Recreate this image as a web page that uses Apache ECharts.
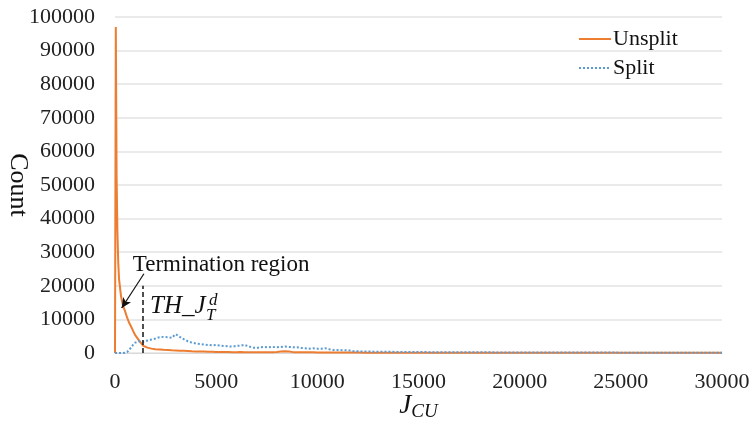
<!DOCTYPE html>
<html>
<head>
<meta charset="utf-8">
<script src="https://cdn.jsdelivr.net/npm/echarts@6/dist/echarts.min.js"></script>
<style>
  html, body { margin: 0; padding: 0; background: #fff; }
  #chart { width: 752px; height: 424px; }
</style>
</head>
<body>
<div id="chart"></div>
<script>
// J_CU bin positions (finer near zero where the unsplit count collapses)
const jcu = [
  0, 40, 80, 120, 160, 200, 300, 400, 500, 600, 700, 800, 900, 1000,
  1200, 1400, 1600, 1800, 2000, 2200, 2400, 2600, 2800, 3000,
  3200, 3400, 3600, 3800, 4000, 4200, 4400, 4600, 4800, 5000,
  5200, 5400, 5600, 5800, 6000, 6200, 6400, 6600, 6800, 7000,
  7200, 7400, 7600, 7800, 8000, 8200, 8400, 8600, 8800, 9000,
  9200, 9400, 9600, 9800, 10000, 10200, 10400, 10600, 10800, 11000,
  11200, 11400, 11600, 11800, 12000, 12400, 12800, 13200, 13600, 14000,
  14500, 15000, 15500, 16000, 17000, 18000, 19000, 20000, 21000, 22000,
  23000, 24000, 25000, 26000, 27000, 28000, 29000, 30000
];

// Count of CUs that were not split
const unsplit = [
  0, 97000, 52000, 36000, 27000, 22000, 16800, 14000, 12400, 10500, 9000, 7800, 6500, 5300,
  3600, 2100, 1600, 1300, 1150, 1050, 950, 880, 800, 750,
  700, 650, 600, 520, 480, 450, 420, 380, 350, 320,
  300, 280, 300, 260, 250, 270, 240, 230, 250, 220,
  230, 210, 220, 260, 300, 480, 520, 450, 260, 220,
  200, 210, 190, 200, 180, 170, 180, 160, 150, 150,
  140, 130, 130, 120, 120, 110, 110, 100, 100, 90,
  90, 80, 80, 80, 70, 70, 60, 60, 60, 50,
  50, 50, 50, 40, 40, 40, 40, 40
];

// Count of CUs that were split
const split = [
  0, 0, 0, 0, 0, 0, 0, 0, 100, 300, 900, 1700, 2500, 3100,
  3500, 3300, 3700, 4000, 4300, 4700, 4800, 4700, 4500, 5600,
  4800, 4100, 3500, 3100, 2800, 2700, 2500, 2400, 2300, 2400,
  2200, 2100, 2000, 1900, 2100, 2200, 2400, 2000, 1600, 1500,
  1700, 1800, 1700, 1800, 1700, 1800, 1900, 1800, 1700, 1700,
  1500, 1400, 1300, 1400, 1300, 1300, 1400, 1100, 900, 900,
  850, 800, 750, 550, 500, 450, 400, 380, 350, 320,
  300, 280, 260, 250, 220, 200, 180, 160, 150, 140,
  130, 120, 110, 100, 100, 90, 90, 80
];

// Y axis tick values
const countTicks = [0, 10000, 20000, 30000, 40000, 50000, 60000, 70000, 80000, 90000, 100000];
// X axis tick values
const jcuTicks = [0, 5000, 10000, 15000, 20000, 25000, 30000];

// Decision threshold TH_J_T^d and its marker height
const threshold = 1370;
const thresholdTop = 20000;

// Arrow for the "Termination region" callout: tail and head in data space
const arrowTail = [1430, 23600];
const arrowHead = [330, 13400];
const calloutAnchor = [880, 29700];
const thLabelAnchor = [1730, 10200];

const serif = '"Liberation Serif", "Times New Roman", serif';
const ORANGE = '#ED7D31';
const BLUE = '#5B9BD5';

const chart = echarts.init(document.getElementById('chart'), null, { renderer: 'canvas' });

const pairs = (ys) => jcu.map((x, i) => [x, ys[i]]);
const plain = (v) => String(v);

chart.setOption({
  animation: false,
  backgroundColor: '#ffffff',
  grid: { left: 115, right: 30, top: 17, bottom: 71, containLabel: false, outerBoundsMode: 'none' },
  legend: {
    orient: 'vertical',
    left: 578,
    top: 28,
    padding: 0,
    itemWidth: 32,
    itemHeight: 12,
    itemGap: 7,
    itemStyle: { opacity: 0 },
    textStyle: { fontFamily: serif, fontSize: 22, color: '#111', padding: [0, 0, 0, -3] },
    data: ['Unsplit', 'Split']
  },
  xAxis: {
    type: 'value',
    min: jcuTicks[0],
    max: jcuTicks[jcuTicks.length - 1],
    interval: jcuTicks[1] - jcuTicks[0],
    axisLine: { show: true, lineStyle: { color: '#d9d9d9', width: 1 } },
    axisTick: { show: false },
    splitLine: { show: false },
    axisLabel: { fontFamily: serif, fontSize: 22, color: '#222', margin: 18, formatter: plain },
    name: '{j|J}{s|CU}',
    nameLocation: 'middle',
    nameGap: 37,
    nameMoveOverlap: false,
    nameTextStyle: {
      rich: {
        j: { fontFamily: serif, fontStyle: 'italic', fontSize: 27, color: '#111' },
        s: { fontFamily: serif, fontStyle: 'italic', fontSize: 19, color: '#111', padding: [12, 0, 0, 0] }
      }
    }
  },
  yAxis: {
    type: 'value',
    min: countTicks[0],
    max: countTicks[countTicks.length - 1],
    interval: countTicks[1] - countTicks[0],
    axisLine: { show: false },
    axisTick: { show: false },
    splitLine: { show: true, lineStyle: { color: '#e3e3e3', width: 1.5 } },
    axisLabel: { fontFamily: serif, fontSize: 22, color: '#222', margin: 20, formatter: plain },
    name: 'Count',
    nameLocation: 'middle',
    nameRotate: -90,
    nameGap: 84,
    nameMoveOverlap: false,
    nameTextStyle: { fontFamily: serif, fontSize: 26, color: '#111' }
  },
  series: [
    {
      name: 'Unsplit',
      type: 'line',
      data: pairs(unsplit),
      symbol: 'none',
      lineStyle: { color: ORANGE, width: 2 },
      itemStyle: { color: ORANGE },
      z: 2,
      markLine: {
        silent: true,
        animation: false,
        label: { show: false },
        data: [
          [
            { coord: [threshold, 0], symbol: 'none', lineStyle: { color: '#222', type: [5, 3], width: 1.6 } },
            { coord: [threshold, thresholdTop], symbol: 'none' }
          ],
          [
            { coord: arrowTail, symbol: 'none', lineStyle: { color: '#111', type: 'solid', width: 1.2 } },
            { coord: arrowHead, symbol: 'arrow', symbolSize: [7, 10] }
          ]
        ]
      }
    },
    {
      name: 'Split',
      type: 'line',
      data: pairs(split),
      symbol: 'none',
      lineStyle: { color: BLUE, width: 2, type: [2, 2] },
      itemStyle: { color: BLUE },
      z: 3
    }
  ]
});

// Callout text placed at data positions converted to pixels
const cp = chart.convertToPixel({ gridIndex: 0 }, calloutAnchor);
const tp = chart.convertToPixel({ gridIndex: 0 }, thLabelAnchor);
chart.setOption({
  graphic: [
    {
      type: 'text',
      left: cp[0], top: cp[1],
      style: { text: 'Termination region', font: '23px ' + serif, fill: '#111' }
    },
    {
      type: 'group',
      x: tp[0], y: tp[1],
      children: [
        { type: 'text', x: 0, y: 0, style: { text: 'TH_J', font: 'italic 25px ' + serif, fill: '#111', textVerticalAlign: 'bottom' } },
        { type: 'text', x: 59, y: -10, style: { text: 'd', font: 'italic 17px ' + serif, fill: '#111', textVerticalAlign: 'bottom' } },
        { type: 'text', x: 56, y: 5, style: { text: 'T', font: 'italic 17px ' + serif, fill: '#111', textVerticalAlign: 'bottom' } }
      ]
    }
  ]
});
</script>
</body>
</html>
